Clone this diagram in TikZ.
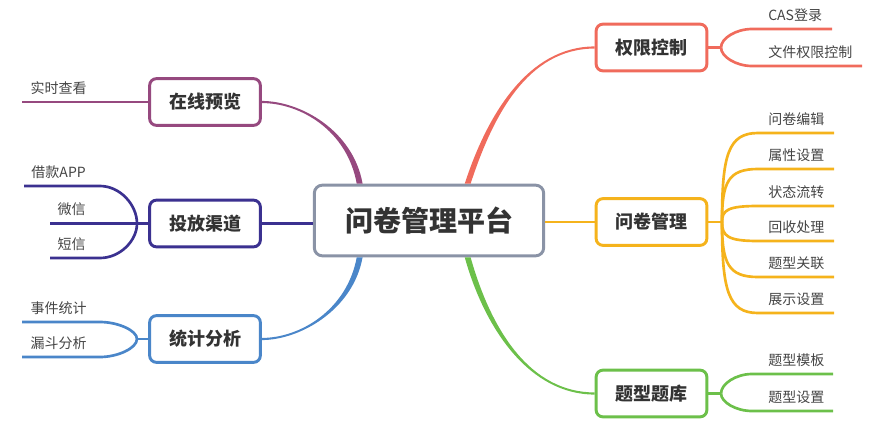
\documentclass[tikz,border=0pt]{standalone}
\usepackage{fontspec}
\setmainfont{Noto Sans CJK SC}
\usepackage{tikz}
\definecolor{huise}{HTML}{8A93A6}
\definecolor{zise}{HTML}{96497F}
\definecolor{lanzi}{HTML}{3B3190}
\definecolor{lanse}{HTML}{4A86C9}
\definecolor{hongse}{HTML}{F06B5C}
\definecolor{huangse}{HTML}{F5B31C}
\definecolor{lvse}{HTML}{6CC04A}
\definecolor{zihei}{HTML}{333333}
\definecolor{zihui}{HTML}{444444}

\begin{document}
\begin{tikzpicture}[x=0.75pt,y=-0.75pt,
	box/.style={draw,line width=2.2pt,rounded corners=5pt,fill=white,minimum width=83pt,minimum height=35pt,
		font=\bfseries\fontsize{13.5}{16}\selectfont,text=zihei},
	leaf/.style={inner sep=0pt,font=\fontsize{10.5}{12}\selectfont,text=zihui},
	twig/.style={line width=2pt}]
	\useasboundingbox (0,0) rectangle (871,429);
	% boxes
	\node[box,draw=huise,minimum width=172pt,minimum height=53pt,rounded corners=6pt,
		font=\bfseries\fontsize{21}{24}\selectfont] (zx) at (429,220.5) {问卷管理平台};
	\node[box,draw=zise] (zxyl) at (205,102) {在线预览};
	\node[box,draw=lanzi] (tfqd) at (205,223.5) {投放渠道};
	\node[box,draw=lanse] (tjfx) at (205,339) {统计分析};
	\node[box,draw=hongse] (qxkz) at (651.5,47.5) {权限控制};
	\node[box,draw=huangse] (wjgl) at (651.5,222) {问卷管理};
	\node[box,draw=lvse] (txtk) at (651.5,393.5) {题型题库};
	% main branches
	\fill[zise] ([xshift=-54.2pt]zx.north) .. controls (347,130) and (300,103) .. ([yshift=-0.8pt]zxyl.east)
		-- ([yshift=0.8pt]zxyl.east) .. controls (300,101) and (353,130) .. ([xshift=-49.8pt]zx.north) -- cycle;
	\fill[lanse] ([xshift=-49.8pt]zx.south) .. controls (353,310) and (300,340) .. ([yshift=-0.8pt]tjfx.east)
		-- ([yshift=0.8pt]tjfx.east) .. controls (300,338) and (347,310) .. ([xshift=-54.2pt]zx.south) -- cycle;
	\fill[hongse] ([xshift=26.8pt]zx.north) .. controls (487,115) and (528,46.5) .. ([yshift=0.8pt]qxkz.west)
		-- ([yshift=-0.8pt]qxkz.west) .. controls (528,48.5) and (493,115) .. ([xshift=31.2pt]zx.north) -- cycle;
	\fill[lvse] ([xshift=31.2pt]zx.south) .. controls (491,330) and (530,392.5) .. ([yshift=0.8pt]txtk.west)
		-- ([yshift=-0.8pt]txtk.west) .. controls (530,394.5) and (485,330) .. ([xshift=26.8pt]zx.south) -- cycle;
	\draw[lanzi,line width=2.2pt] (tfqd.east) -- (tfqd.east -| zx.west);
	\draw[huangse,line width=2.2pt] (zx.east |- wjgl.west) -- (wjgl.west);
	% left leaves
	\node[leaf,anchor=base east] (sscx) at (87,93) {实时查看};
	\coordinate (sscxend) at (22,102);
	\draw[zise,twig] (zxyl.west) -- (sscxend);
	\coordinate (tffork) at (137,223.5);
	\draw[lanzi,twig] (tfqd.west) -- (tffork);
	\foreach \i/\y/\ming/\xe in {1/186/借款APP/24,2/223.5/微信/50,3/258/短信/50}{
		\node[leaf,anchor=base east] (tf\i) at (86,{\y-9}) {\ming};
		\coordinate (tfend\i) at (\xe,\y);
		\draw[lanzi,twig] (tffork) .. controls (137,{223.5+(\y-223.5)*0.5}) and (120,\y) .. (100,\y) -- (tfend\i);
	}
	\coordinate (tjfork) at (137,339);
	\draw[lanse,twig] (tjfx.west) -- (tjfork);
	\foreach \i/\y/\ming in {1/322/事件统计,2/357/漏斗分析}{
		\node[leaf,anchor=base east] (tj\i) at (87,{\y-9}) {\ming};
		\coordinate (tjend\i) at (22,\y);
		\draw[lanse,twig] (tjfork) .. controls (137,{339+(\y-339)*0.5}) and (118,\y) .. (100,\y) -- (tjend\i);
	}
	% right leaves
	\coordinate (qxfork) at (721,47.5);
	\draw[hongse,twig] (qxkz.east) -- (qxfork);
	\foreach \i/\y/\ming/\xe in {1/29/CAS登录/832,2/66/文件权限控制/862}{
		\node[leaf,anchor=base west] (qx\i) at (768,{\y-9}) {\ming};
		\coordinate (qxend\i) at (\xe,\y);
		\draw[hongse,twig] (qxfork) .. controls (721,{47.5+(\y-47.5)*0.5}) and (736,\y) .. (752,\y) -- (qxend\i);
	}
	\coordinate (wjfork) at (722,222);
	\draw[huangse,twig] (wjgl.east) -- (wjfork);
	\foreach \i/\y/\ming in {1/133/问卷编辑,2/169/属性设置,3/206/状态流转,4/241/回收处理,5/277/题型关联,6/313/展示设置}{
		\node[leaf,anchor=base west] (wj\i) at (768,{\y-9}) {\ming};
		\coordinate (wjend\i) at (834,\y);
		\draw[huangse,twig] (wjfork) .. controls (722,{222+(\y-222)*0.75}) and (728,\y) .. (758,\y) -- (wjend\i);
	}
	\coordinate (txfork) at (721,393.5);
	\draw[lvse,twig] (txtk.east) -- (txfork);
	\foreach \i/\y/\ming in {1/374/题型模板,2/411/题型设置}{
		\node[leaf,anchor=base west] (tx\i) at (768,{\y-9}) {\ming};
		\coordinate (txend\i) at (833,\y);
		\draw[lvse,twig] (txfork) .. controls (721,{393.5+(\y-393.5)*0.5}) and (736,\y) .. (752,\y) -- (txend\i);
	}
\end{tikzpicture}
\end{document}
